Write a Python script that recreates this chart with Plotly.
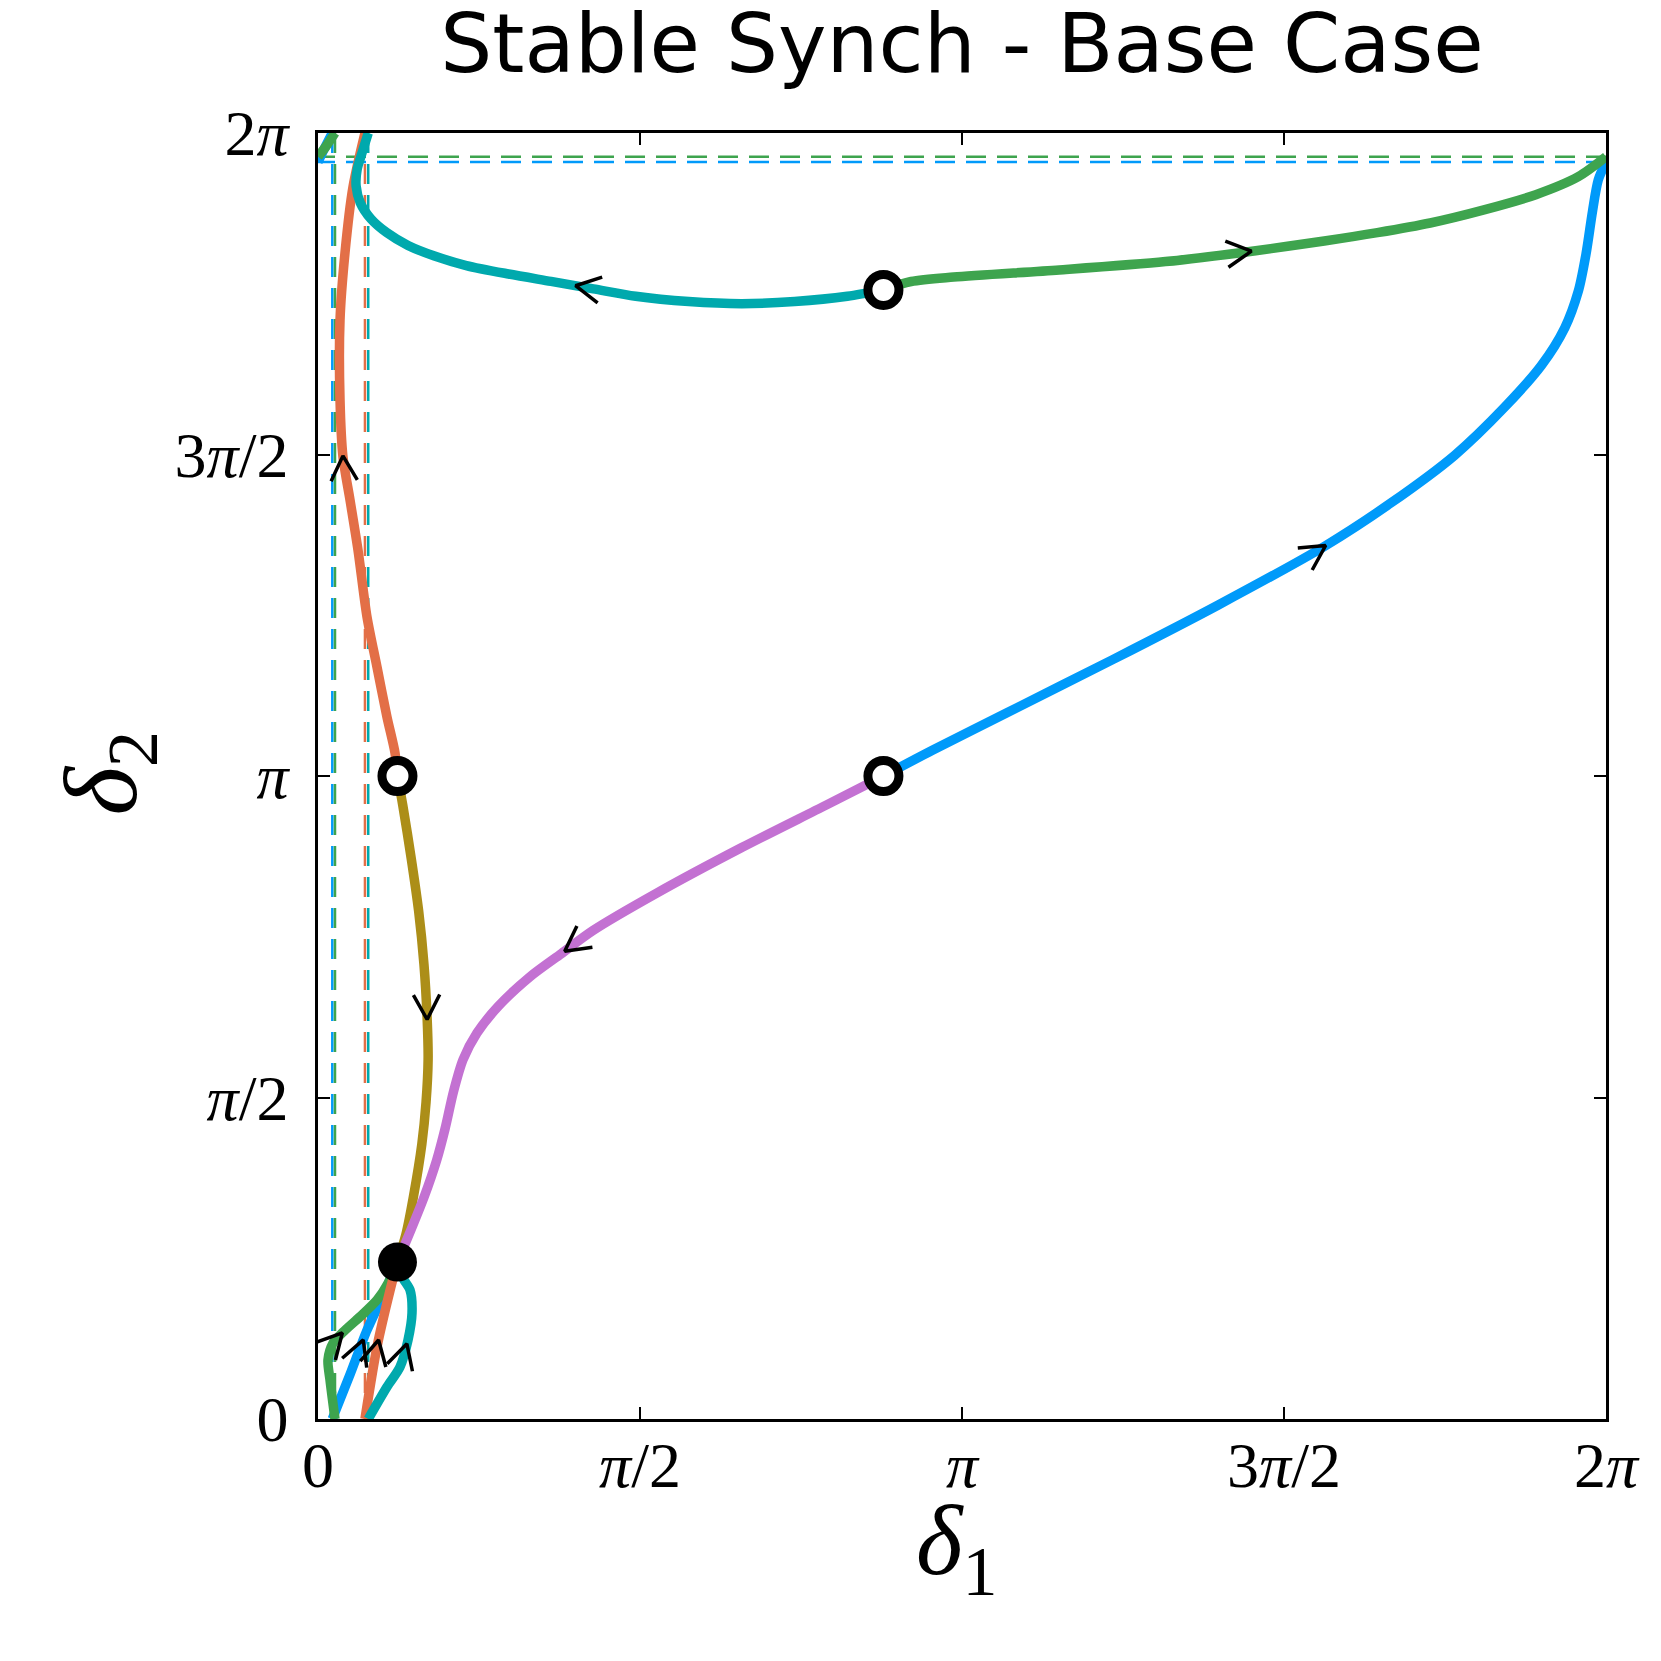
import numpy as np
import plotly.graph_objects as go

PI = np.pi

# ---- data (all coordinates in units of pi) ----
blue_main_x = [0.878, 0.954, 1.069, 1.234, 1.398, 1.5625, 1.666, 1.765, 1.842, 1.900, 1.936, 1.957, 1.969, 1.979, 1.988, 2.0]
blue_main_y = [1.0, 1.040, 1.098, 1.181, 1.266, 1.357, 1.4246, 1.4988, 1.573, 1.639, 1.697, 1.754, 1.812, 1.878, 1.927, 1.955]
blue_top_x = [0.0, 0.011, 0.0222]
blue_top_y = [1.955, 1.978, 2.0]
blue_bot_x = [0.0222, 0.05, 0.076, 0.1, 0.1234]
blue_bot_y = [0.0, 0.07, 0.138, 0.19, 0.244]

green_main_x = [0.878, 0.921, 0.987, 1.151, 1.316, 1.456, 1.5625, 1.645, 1.727, 1.809, 1.891, 1.957, 2.0]
green_main_y = [1.756, 1.769, 1.776, 1.787, 1.800, 1.817, 1.832, 1.845, 1.860, 1.880, 1.904, 1.932, 1.963]
green_top_x = [0.0, 0.013, 0.0264]
green_top_y = [1.963, 1.98, 2.0]
green_bot_x = [0.0264, 0.0186, 0.0155, 0.0233, 0.0388, 0.0652, 0.0916, 0.109, 0.1234]
green_bot_y = [0.0, 0.061, 0.092, 0.118, 0.135, 0.159, 0.185, 0.2115, 0.244]

orange_main_x = [0.1234, 0.1196, 0.1071, 0.0916, 0.0761, 0.0621, 0.0497, 0.0388, 0.0342, 0.0342, 0.0419, 0.0543, 0.0729]
orange_main_y = [1.0, 1.0358, 1.0918, 1.1695, 1.2473, 1.3515, 1.4292, 1.4961, 1.5848, 1.7092, 1.8134, 1.916, 2.0]
orange_bot_x = [0.0729, 0.0916, 0.112, 0.1234]
orange_bot_y = [0.0, 0.112, 0.2006, 0.244]

teal_main_x = [0.878, 0.822, 0.740, 0.658, 0.5757, 0.4934, 0.4276, 0.3618, 0.296, 0.2303, 0.1809, 0.1398, 0.1069, 0.0822, 0.0658, 0.0592, 0.0609, 0.0686, 0.078]
teal_main_y = [1.756, 1.746, 1.7378, 1.7345, 1.7378, 1.746, 1.7576, 1.7692, 1.7807, 1.7939, 1.8087, 1.8252, 1.845, 1.8665, 1.8912, 1.9176, 1.944, 1.9697, 2.0]
teal_bot_x = [0.078, 0.107, 0.1273, 0.1398, 0.146, 0.1429, 0.132, 0.1234]
teal_bot_y = [0.0, 0.0498, 0.0809, 0.1229, 0.1649, 0.2006, 0.219, 0.244]

olive_x = [0.1234, 0.1316, 0.1447, 0.1563, 0.1645, 0.1694, 0.171, 0.1678, 0.1612, 0.148, 0.1365, 0.1234]
olive_y = [1.0, 0.9547, 0.8722, 0.7898, 0.7073, 0.6249, 0.559, 0.493, 0.427, 0.3446, 0.2869, 0.244]

purple_x = [0.878, 0.789, 0.658, 0.526, 0.4276, 0.378, 0.329, 0.2796, 0.2467, 0.2253, 0.2105, 0.1974, 0.1842, 0.1645, 0.1447, 0.1234]
purple_y = [1.0, 0.9547, 0.8887, 0.8178, 0.760, 0.7238, 0.6876, 0.6414, 0.600, 0.559, 0.5095, 0.4518, 0.4023, 0.3446, 0.2951, 0.244]

stable_x = [0.1234]
stable_y = [0.244]
saddle_x = [0.1234, 0.878, 0.878]
saddle_y = [1.0, 1.0, 1.756]

tick_vals = [0, 0.5, 1.0, 1.5, 2.0]
tick_text = ["0", "<i>π</i>/2", "<i>π</i>", "3<i>π</i>/2", "2<i>π</i>"]

BLUE = "#009AFA"; ORANGE = "#E36F47"; GREEN = "#3EA44E"
PURPLE = "#C371D2"; OLIVE = "#AC8E18"; TEAL = "#00A9AD"

fig = go.Figure()

def P(a):
    return [v * PI for v in a]

DASH = dict(width=2.5, dash="20px,11px")

# dashed wrap-around connectors, derived from segment endpoints
def hdash(y_end, color):
    fig.add_trace(go.Scatter(x=[2 * PI, 0], y=[y_end * PI, y_end * PI], mode="lines",
                             line=dict(color=color, **DASH), hoverinfo="skip"))

def vdash(x_end, color):
    fig.add_trace(go.Scatter(x=[x_end * PI, x_end * PI], y=[2 * PI, 0], mode="lines",
                             line=dict(color=color, **DASH), hoverinfo="skip"))

hdash(green_main_y[-1], GREEN)
hdash(blue_main_y[-1], BLUE)
vdash(blue_top_x[-1], BLUE)
vdash(green_top_x[-1], GREEN)
vdash(orange_main_x[-1], ORANGE)
vdash(teal_main_x[-1], TEAL)

LW = 9.5
segments = [
    (blue_main_x, blue_main_y, BLUE), (blue_top_x, blue_top_y, BLUE), (blue_bot_x, blue_bot_y, BLUE),
    (green_main_x, green_main_y, GREEN), (green_top_x, green_top_y, GREEN), (green_bot_x, green_bot_y, GREEN),
    (orange_main_x, orange_main_y, ORANGE), (orange_bot_x, orange_bot_y, ORANGE),
    (teal_main_x, teal_main_y, TEAL), (teal_bot_x, teal_bot_y, TEAL),
    (olive_x, olive_y, OLIVE), (purple_x, purple_y, PURPLE),
]
for sx, sy, c in segments:
    fig.add_trace(go.Scatter(x=P(sx), y=P(sy), mode="lines",
                             line=dict(color=c, width=LW, shape="spline", smoothing=0.8),
                             hoverinfo="skip"))

# chevrons at the arc-length midpoint of each flowing segment
def chevron(sx, sy, frac=0.5, L=0.0435, ang=np.deg2rad(28)):
    x = np.array(sx); y = np.array(sy)
    d = np.hypot(np.diff(x), np.diff(y))
    s = np.concatenate([[0], np.cumsum(d)])
    t = frac * s[-1]
    i = min(np.searchsorted(s, t) - 1, len(d) - 1)
    i = max(i, 0)
    u = (t - s[i]) / d[i]
    px = x[i] + u * (x[i + 1] - x[i]); py = y[i] + u * (y[i + 1] - y[i])
    dx = (x[i + 1] - x[i]) / d[i]; dy = (y[i + 1] - y[i]) / d[i]
    out_x, out_y = [], []
    for a in (ang, -ang):
        rx = dx * np.cos(a) - dy * np.sin(a)
        ry = dx * np.sin(a) + dy * np.cos(a)
        out_x += [px - L * rx]; out_y += [py - L * ry]
    return [out_x[0], px, out_x[1]], [out_y[0], py, out_y[1]]

cx, cy = [], []
for sx, sy in [(blue_main_x, blue_main_y), (blue_bot_x, blue_bot_y),
               (green_main_x, green_main_y), (green_bot_x, green_bot_y),
               (orange_main_x, orange_main_y), (orange_bot_x, orange_bot_y),
               (teal_main_x, teal_main_y), (teal_bot_x, teal_bot_y),
               (olive_x, olive_y), (purple_x, purple_y)]:
    a, b = chevron(sx, sy)
    cx += a + [None]; cy += b + [None]
fig.add_trace(go.Scatter(x=[v * PI if v is not None else None for v in cx],
                         y=[v * PI if v is not None else None for v in cy],
                         mode="lines", line=dict(color="black", width=3.5), hoverinfo="skip"))

fig.add_trace(go.Scatter(x=P(saddle_x), y=P(saddle_y), mode="markers", cliponaxis=False,
                         marker=dict(size=31, color="white", line=dict(color="black", width=9)),
                         hoverinfo="skip"))
fig.add_trace(go.Scatter(x=P(stable_x), y=P(stable_y), mode="markers", cliponaxis=False,
                         marker=dict(size=39, color="black", line=dict(width=0)),
                         hoverinfo="skip"))

axis_common = dict(range=[0, 2 * PI], tickvals=P(tick_vals), ticktext=tick_text,
                   ticks="inside", ticklen=12, tickwidth=2, tickcolor="black",
                   showline=True, linewidth=2.5, linecolor="black", mirror="ticks",
                   showgrid=False, zeroline=False,
                   tickfont=dict(family="Liberation Serif", size=64, color="black"))
fig.update_xaxes(**axis_common, ticklabelstandoff=-12)
fig.update_yaxes(**axis_common, ticklabelstandoff=14)

fig.update_layout(
    width=1661, height=1661, showlegend=False,
    margin=dict(l=318, r=55, t=133, b=242, pad=0),
    plot_bgcolor="white", paper_bgcolor="white",
    title=dict(text="Stable Synch - Base Case", x=0.5, xref="paper", xanchor="center",
               y=1 - 15 / 1661, yref="container", yanchor="top",
               font=dict(family="DejaVu Sans", size=82, color="black")),
    annotations=[
        dict(text="<i>δ</i><sub>1</sub>", x=0.496, y=-0.100, xref="paper", yref="paper",
             xanchor="center", yanchor="middle", showarrow=False,
             font=dict(family="Liberation Serif", size=100, color="black")),
        dict(text="<i>δ</i><sub>2</sub>", x=-0.163, y=0.502, xref="paper", yref="paper",
             xanchor="center", yanchor="middle", showarrow=False, textangle=-90,
             font=dict(family="Liberation Serif", size=104, color="black")),
    ],
)

fig.write_html("out.html", config={"displayModeBar": False},
               post_script="document.body.style.margin='0px';")
